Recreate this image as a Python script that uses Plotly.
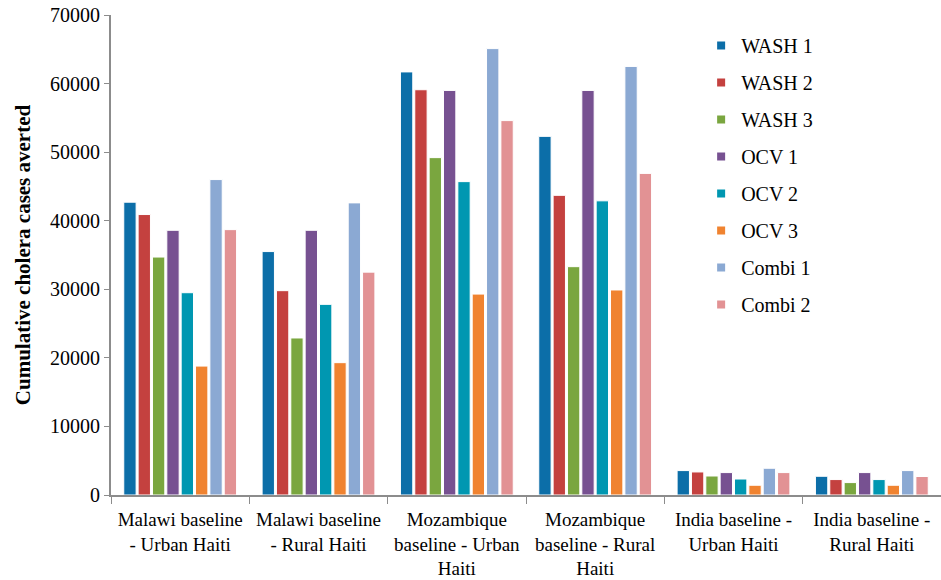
import plotly.graph_objects as go

categories = [
    "Malawi baseline<br>- Urban Haiti",
    "Malawi baseline<br>- Rural Haiti",
    "Mozambique<br>baseline - Urban<br>Haiti",
    "Mozambique<br>baseline - Rural<br>Haiti",
    "India baseline -<br>Urban Haiti",
    "India baseline -<br>Rural Haiti",
]

wash1 = [42700, 35500, 61700, 52300, 3560, 2730]
wash2 = [40900, 29800, 59100, 43700, 3360, 2250]
wash3 = [34700, 22900, 49200, 33300, 2770, 1810]
ocv1 = [38600, 38600, 59000, 59000, 3270, 3270]
ocv2 = [29500, 27800, 45700, 42900, 2330, 2250]
ocv3 = [18800, 19300, 29300, 29900, 1420, 1420]
combi1 = [46000, 42600, 65100, 62500, 3900, 3560]
combi2 = [38700, 32500, 54600, 46900, 3270, 2700]

series = [
    ("WASH 1", wash1, "#0c6ea8"),
    ("WASH 2", wash2, "#c4413f"),
    ("WASH 3", wash3, "#7aa63f"),
    ("OCV 1", ocv1, "#775191"),
    ("OCV 2", ocv2, "#0097b1"),
    ("OCV 3", ocv3, "#f08330"),
    ("Combi 1", combi1, "#8ba9d3"),
    ("Combi 2", combi2, "#e29294"),
]

fig = go.Figure()
for i, (name, vals, color) in enumerate(series):
    fig.add_trace(go.Bar(
        x=categories, y=vals, name=name, showlegend=False,
        marker=dict(color=color, line=dict(color="white", width=1)),
    ))
# legend entries with small square keys
for i, (name, vals, color) in enumerate(series):
    fig.add_trace(go.Scatter(
        x=[None], y=[None], name=name, mode="markers", legendgroup=str(i),
        marker=dict(symbol="square", size=8, color=color),
    ))

serif = "Liberation Serif, Times New Roman, serif"
fig.update_layout(
    width=941, height=580,
    paper_bgcolor="white", plot_bgcolor="white",
    margin=dict(l=111, r=0, t=15, b=85),
    barmode="group", bargap=0.17, bargroupgap=0.14,
    font=dict(family=serif, size=19, color="black"),
    showlegend=True,
    legend=dict(x=0.711, y=0.977, xanchor="left", yanchor="top",
                font=dict(family=serif, size=20, color="black"),
                tracegroupgap=8, bgcolor="rgba(255,255,255,0)"),
    xaxis=dict(
        showline=True, linecolor="#8c8c8c", linewidth=2,
        ticks="outside", tickson="boundaries", ticklen=7, tickcolor="#8c8c8c",
        tickfont=dict(family=serif, size=19), ticklabelstandoff=6,
        showgrid=False, automargin=False,
    ),
    yaxis=dict(
        range=[0, 70000], dtick=10000, tickformat="d",
        showline=True, linecolor="#8c8c8c", linewidth=2,
        ticks="outside", ticklen=5, tickcolor="#8c8c8c",
        tickfont=dict(family=serif, size=20),
        showgrid=False, zeroline=False, automargin=False,
        ticklabeloverflow="allow",
        title=dict(text="<b>Cumulative cholera cases averted</b>",
                   font=dict(family=serif, size=21), standoff=14),
    ),
)

fig.write_html("out.html", config={"displayModeBar": False},
               post_script="document.body.style.margin='0';document.body.style.padding='0';")
